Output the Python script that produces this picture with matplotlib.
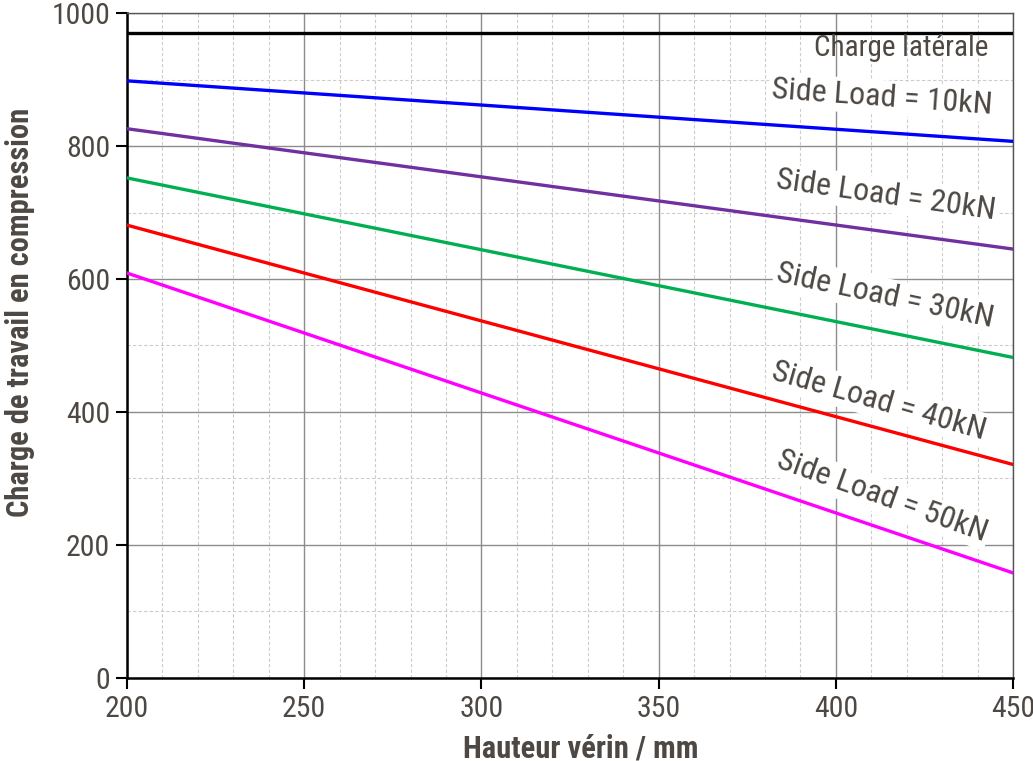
import matplotlib.pyplot as plt
import matplotlib.font_manager as fm
import numpy as np
from matplotlib.ticker import MultipleLocator

# values
hauteur = [200, 450]
charge_laterale = [970, 970]
side_loads = ["10kN", "20kN", "30kN", "40kN", "50kN"]
charges = [
    [898, 807],
    [826, 645],
    [752, 482],
    [681, 321],
    [609, 158],
]
line_colors = ["#0000ff", "#7030a0", "#00b050", "#ff0000", "#ff00ff"]
# label centres (data coords)
label_pos = [(413, 873), (414, 726), (414, 575), (412, 417), (413, 273)]

# an Arial Narrow look-alike with a bold face, whichever is installed
bold_ok = {f.name for f in fm.fontManager.ttflist
           if f.weight in (700, "bold") and f.style == "normal"}
narrow = [n for n in ["Liberation Sans Narrow", "Arial Narrow", "Roboto Condensed",
                      "Archivo Narrow", "PT Sans Narrow", "Pragati Narrow",
                      "IBM Plex Sans Condensed", "Sofia Sans Condensed"]
          if n in bold_ok]
plt.rcParams["font.family"] = narrow[:1] + ["DejaVu Sans"]
txt = "#4d4843"

fig = plt.figure(figsize=(10.33, 7.61), dpi=100)
ax = fig.add_axes([0.1229, 0.1091, 0.8578, 0.8738])

ax.set_xlim(200, 450)
ax.set_ylim(0, 1000)
ax.xaxis.set_major_locator(MultipleLocator(50))
ax.xaxis.set_minor_locator(MultipleLocator(10))
ax.yaxis.set_major_locator(MultipleLocator(200))
ax.yaxis.set_minor_locator(MultipleLocator(100))
ax.grid(which="major", color="#8c8c8c", linewidth=1.0, linestyle="-")
ax.grid(which="minor", color="#cccccc", linewidth=0.8, linestyle=(0, (3, 2)))
ax.set_axisbelow(True)

for side in ["left", "bottom"]:
    ax.spines[side].set_linewidth(1.8)
    ax.spines[side].set_color("black")
for side in ["top", "right"]:
    ax.spines[side].set_linewidth(1.0)
    ax.spines[side].set_color("#555555")

ax.tick_params(which="major", direction="out", length=8, width=1.5,
               colors="black", labelcolor=txt, labelsize=21.5, pad=4)
ax.tick_params(which="minor", length=0)

ax.plot(hauteur, charge_laterale, color="black", linewidth=2.4, zorder=3)
ax.text(443, 948, "Charge latérale", ha="right", va="center",
        fontsize=21, color=txt, zorder=4)

fig.canvas.draw()
for name, vals, col, (lx, ly) in zip(side_loads, charges, line_colors, label_pos):
    ax.plot(hauteur, vals, color=col, linewidth=2.4, zorder=3)
    p0 = ax.transData.transform((hauteur[0], vals[0]))
    p1 = ax.transData.transform((hauteur[1], vals[1]))
    ang = np.degrees(np.arctan2(p1[1] - p0[1], p1[0] - p0[0]))
    ax.text(lx, ly, "Side Load = " + name, ha="center", va="center",
            rotation=ang * 1.05, rotation_mode="anchor", fontsize=23,
            color=txt, zorder=4,
            bbox=dict(facecolor="white", edgecolor="none", pad=2))

ax.set_xlabel("Hauteur vérin / mm", fontsize=22, fontweight="bold", color=txt)
ax.set_ylabel("Charge de travail en compression", fontsize=22,
              fontweight="bold", color=txt)
ax.xaxis.set_label_coords(0.512, -0.083)
ax.yaxis.set_label_coords(-0.104, 0.55)

fig.savefig("out.png", dpi=100)
